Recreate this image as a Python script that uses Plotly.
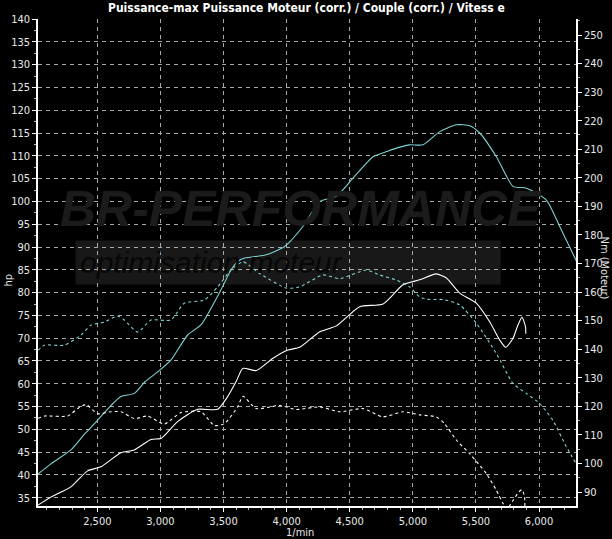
import plotly.graph_objects as go

# ---- data ----
rpm_p1 = [2030, 2135, 2291, 2400, 2502, 2600, 2687, 2793, 2880, 2978, 3083, 3216, 3321, 3400, 3480, 3560, 3612, 3654,
          3750, 3839, 3984, 4129, 4263, 4394, 4526, 4685, 4800, 4896, 4975, 5080, 5213, 5345, 5451, 5530, 5662, 5794,
          5900, 6058, 6164, 6295]
hp_p1 = [40.2, 42.5, 45.5, 49.0, 52.0, 55.0, 57.2, 57.9, 60.5, 62.6, 65.2, 70.7, 72.9, 76.5, 80.6, 85.0, 86.8, 87.5,
         87.9, 88.3, 90.1, 94.5, 100.0, 101.1, 105.1, 109.8, 111.0, 111.9, 112.4, 112.4, 115.3, 116.8, 116.6, 115.0,
         109.8, 103.3, 102.9, 100.3, 94.5, 87.0]

rpm_t1 = [2030, 2080, 2238, 2370, 2449, 2555, 2661, 2714, 2819, 2925, 3083, 3189, 3348, 3453, 3559, 3654, 3786,
          3998, 4103, 4288, 4420, 4632, 4737, 4869, 4975, 5054, 5133, 5239, 5371, 5503, 5662, 5794, 5900, 6005, 6111,
          6217, 6295]
nm_t1 = [139.6, 141.4, 141.4, 144.9, 148.4, 149.5, 151.6, 150.2, 146.0, 150.2, 150.2, 156.1, 157.2, 161.8, 167.7,
         170.6, 166.5, 161.4, 161.8, 166.0, 164.7, 167.7, 166.0, 164.2, 161.8, 158.3, 157.4, 157.4, 155.5, 149.1,
         138.5, 128.0, 124.5, 121.0, 115.0, 105.8, 99.9]

rpm_p2 = [2030, 2135, 2291, 2423, 2529, 2687, 2793, 2925, 3004, 3136, 3295, 3453, 3533, 3600, 3654, 3760, 3892,
          4011, 4103, 4263, 4394, 4579, 4764, 4922, 5054, 5186, 5266, 5371, 5503, 5609, 5688, 5736, 5794, 5833, 5865,
          5893, 5895]
hp_p2 = [33.4, 35.2, 37.4, 40.9, 41.8, 44.9, 45.5, 47.8, 48.0, 51.7, 54.4, 54.4, 57.2, 60.5, 63.4, 62.9, 65.6,
         67.4, 68.0, 71.4, 72.7, 76.9, 77.5, 81.7, 82.8, 84.1, 83.2, 79.9, 77.7, 73.6, 69.6, 68.0, 70.0, 72.9, 74.6,
         72.5, 71.0]

rpm_t2 = [2030, 2083, 2265, 2344, 2410, 2503, 2608, 2687, 2793, 2899, 3031, 3163, 3321, 3427, 3506, 3612, 3654,
          3760, 3945, 4077, 4263, 4420, 4605, 4764, 4922, 5054, 5186, 5252, 5345, 5451, 5583, 5662, 5715, 5745, 5790,
          5840, 5865, 5885, 5888]
nm_t2 = [115.8, 116.6, 116.6, 119.2, 120.6, 117.4, 118.1, 118.1, 115.7, 116.6, 113.8, 117.8, 118.1, 113.3, 113.9,
         119.8, 123.5, 119.2, 120.3, 118.9, 119.8, 118.1, 119.2, 116.3, 118.1, 117.0, 116.3, 113.9, 108.2, 103.4,
         96.4, 90.6, 86.0, 84.0, 86.8, 90.0, 90.8, 88.5, 85.0]

hp_ticks = list(range(35, 141, 5))
nm_ticks = list(range(90, 251, 10))
rpm_ticks = [2500, 3000, 3500, 4000, 4500, 5000, 5500, 6000]
rpm_labels = ["2,500", "3,000", "3,500", "4,000", "4,500", "5,000", "5,500", "6,000"]

TITLE = "Puissance-max Puissance Moteur (corr.) / Couple (corr.) / Vitess e"
CYAN = "#7fd2d2"
FONT = "DejaVu Sans Condensed, Liberation Sans Narrow, Arial Narrow, Liberation Sans, Arial"

fig = go.Figure()
fig.add_trace(go.Scatter(x=rpm_p1, y=hp_p1, mode="lines", line=dict(color=CYAN, width=1.1, shape="spline", smoothing=0.6),
                         name="Puissance"))
fig.add_trace(go.Scatter(x=rpm_t1, y=nm_t1, mode="lines", yaxis="y2",
                         line=dict(color=CYAN, width=1.1, dash="3px,3px", shape="spline", smoothing=0.6), name="Couple"))
fig.add_trace(go.Scatter(x=rpm_p2, y=hp_p2, mode="lines", line=dict(color="#ffffff", width=1.1, shape="spline", smoothing=0.6),
                         name="Puissance 2"))
fig.add_trace(go.Scatter(x=rpm_t2, y=nm_t2, mode="lines", yaxis="y2",
                         line=dict(color="#ffffff", width=1.1, dash="3px,3px", shape="spline", smoothing=0.6), name="Couple 2"))

tickfont = dict(family=FONT, size=11, color="#e8e8e8")

fig.update_layout(
    width=612, height=539,
    paper_bgcolor="#000000", plot_bgcolor="#000000",
    margin=dict(l=38, r=36, t=19, b=33),
    showlegend=False,
    xaxis=dict(range=[2030, 6293], tickvals=rpm_ticks, ticktext=rpm_labels, tickfont=tickfont, automargin=False,
               showgrid=True, gridcolor="#a8a8a8", gridwidth=1, griddash="4px,4px",
               showline=True, linecolor="#ffffff", linewidth=1.5, ticks="outside", ticklen=4, tickcolor="#ffffff",
               minor=dict(dtick=100, tick0=2000, ticklen=2, tickcolor="#bbbbbb", ticks="outside", showgrid=False),
               zeroline=False),
    yaxis=dict(range=[33.2, 140], tickvals=hp_ticks, tickfont=tickfont, automargin=False,
               showgrid=True, gridcolor="#a8a8a8", gridwidth=1, griddash="4px,4px",
               showline=True, linecolor="#ffffff", linewidth=1.5, ticks="outside", ticklen=4, tickcolor="#ffffff",
               minor=dict(dtick=2.5, tick0=0, ticklen=2, tickcolor="#bbbbbb", ticks="outside", showgrid=False),
               zeroline=False),
    yaxis2=dict(range=[85.1, 255.6], tickvals=nm_ticks, tickfont=tickfont, overlaying="y", side="right",
                automargin=False,
                showgrid=False, showline=True, linecolor="#ffffff", linewidth=1.5, ticks="outside", ticklen=4,
                tickcolor="#ffffff",
                minor=dict(dtick=5, tick0=0, ticklen=2, tickcolor="#bbbbbb", ticks="outside", showgrid=False),
                zeroline=False),
    annotations=[
        dict(text="<b>" + TITLE + "</b>", x=0.5, y=1.0, xref="paper", yref="paper", xanchor="center", yanchor="bottom",
             yshift=2, xshift=-1, showarrow=False, font=dict(family=FONT, size=12, color="#ffffff")),
        dict(text="hp", x=0, y=0.5, xref="paper", yref="paper", xanchor="center", yanchor="middle",
             xshift=-30, yshift=-18, showarrow=False, textangle=-90, font=dict(family=FONT, size=11, color="#e8e8e8")),
        dict(text="Nm (Moteur)", x=1, y=0.5, xref="paper", yref="paper", xanchor="center", yanchor="middle",
             xshift=28, yshift=-5, showarrow=False, textangle=90, font=dict(family=FONT, size=11, color="#e8e8e8")),
        dict(text="1/min", x=0.5, y=0, xref="paper", yref="paper", xanchor="center", yanchor="top",
             xshift=-7, yshift=-18, showarrow=False, font=dict(family=FONT, size=11, color="#e8e8e8")),
        dict(text="<b><i>BR-PERFORMANCE</i></b>", x=0.5, y=0.61, xref="paper", yref="paper", xanchor="center",
             yanchor="middle", xshift=-6, showarrow=False, font=dict(family="Liberation Sans, Arial", size=50, color="#1b1b1b")),
        dict(text="<i>optimisation moteur</i>", x=0.075, y=0.50, xref="paper", yref="paper", xanchor="left",
             yanchor="middle", showarrow=False, font=dict(family="Liberation Sans, Arial", size=30, color="#070707")),
    ],
    shapes=[
        dict(type="rect", xref="paper", yref="paper", x0=0.07, x1=0.86, y0=0.455, y1=0.545, fillcolor="#181818",
             line=dict(width=0), layer="below"),
    ],
)

fig.write_html("out.html", config={"displayModeBar": False},
               post_script="document.body.style.margin='0';document.body.style.background='#000';")
